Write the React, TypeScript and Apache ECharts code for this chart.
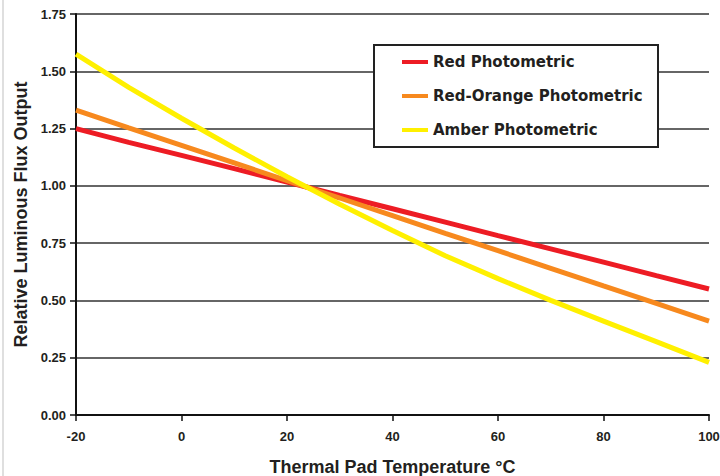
import React, { useEffect, useRef } from "react";
import * as echarts from "echarts";

const temps = [-20, -10, 0, 10, 20, 30, 40, 50, 60, 70, 80, 90, 100];
const redValues = [1.25, 1.19, 1.133, 1.075, 1.017, 0.958, 0.9, 0.842, 0.783, 0.725, 0.667, 0.608, 0.55];
const redOrangeValues = [1.33, 1.253, 1.177, 1.1, 1.023, 0.947, 0.87, 0.793, 0.717, 0.64, 0.563, 0.487, 0.41];
const amberValues = [1.575, 1.43, 1.295, 1.165, 1.04, 0.92, 0.805, 0.695, 0.595, 0.5, 0.41, 0.32, 0.23];
const seriesNames = ["Red Photometric", "Red-Orange Photometric", "Amber Photometric"];
const seriesColors = ["#ED1C24", "#F7891E", "#FFF000"];

const SANS = "'Liberation Sans', Arial, sans-serif";
const WIDE = "'DejaVu Sans', Verdana, sans-serif";

export default function App() {
  const ref = useRef<HTMLDivElement>(null);
  useEffect(() => {
    if (!ref.current) return;
    const chart = echarts.init(ref.current, undefined, { renderer: "svg" });
    const all = [redValues, redOrangeValues, amberValues];
    chart.setOption({
      animation: false,
      backgroundColor: "#ffffff",
      grid: { left: 76, right: 11, top: 14, bottom: 61, containLabel: false, outerBoundsMode: "none" },
      xAxis: {
        type: "value",
        min: -20,
        max: 100,
        interval: 20,
        name: "Thermal Pad Temperature °C",
        nameLocation: "middle",
        nameGap: 43,
        nameTextStyle: { fontFamily: SANS, fontWeight: "bold", fontSize: 18, color: "#231f20" },
        axisLine: { show: true, onZero: false, lineStyle: { color: "#111", width: 2 } },
        axisTick: { show: true, inside: false, length: 6, lineStyle: { color: "#111", width: 1.5 } },
        axisLabel: { margin: 15, fontFamily: SANS, fontWeight: "bold", fontSize: 13, color: "#231f20" },
        splitLine: { show: false },
      },
      yAxis: {
        type: "value",
        min: 0,
        max: 1.75,
        interval: 0.25,
        name: "Relative Luminous Flux Output",
        nameLocation: "middle",
        nameGap: 46,
        nameTextStyle: { fontFamily: SANS, fontWeight: "bold", fontSize: 18, color: "#231f20" },
        axisLine: { show: true, onZero: false, lineStyle: { color: "#111", width: 2 } },
        axisTick: { show: true, inside: false, length: 6, lineStyle: { color: "#111", width: 1.5 } },
        axisLabel: {
          margin: 10,
          fontFamily: SANS,
          fontWeight: "bold",
          fontSize: 13,
          color: "#231f20",
          formatter: (v: number) => v.toFixed(2),
        },
        splitLine: { show: true, lineStyle: { color: "#333", width: 1.5 } },
      },
      legend: {
        orient: "vertical",
        left: 402,
        top: 53,
        padding: 0,
        itemGap: 16,
        itemWidth: 26,
        itemHeight: 4,
        icon: "rect",
        z: 10,
        textStyle: { fontFamily: WIDE, fontWeight: "bold", fontSize: 15, lineHeight: 18, color: "#231f20" },
        data: seriesNames,
      },
      graphic: [
        {
          type: "rect",
          z: 5,
          shape: { x: 374, y: 45, width: 284, height: 102 },
          style: { fill: "#ffffff", stroke: "#222", lineWidth: 2 },
        },
        {
          type: "line",
          z: 5,
          shape: { x1: 3, y1: 0, x2: 3, y2: 476 },
          style: { stroke: "#d4d4d4", lineWidth: 1.5 },
        },
      ],
      series: seriesNames.map((name, i) => ({
        name,
        type: "line",
        showSymbol: false,
        symbol: "none",
        color: seriesColors[i],
        lineStyle: { color: seriesColors[i], width: 5 },
        data: temps.map((t, j) => [t, all[i][j]]),
        z: 2 + i,
      })),
    });
    return () => chart.dispose();
  }, []);
  return (
    <div
      ref={ref}
      style={{ position: "absolute", left: 0, top: 0, width: 720, height: 476 }}
    />
  );
}
